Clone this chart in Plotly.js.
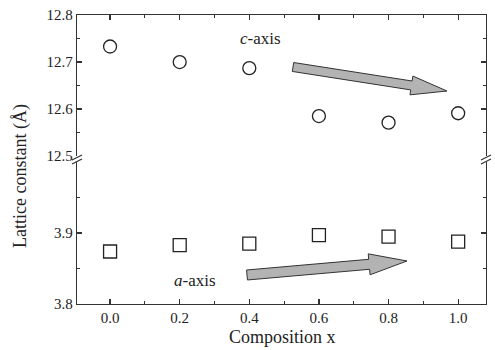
<!DOCTYPE html>
<html><head><meta charset="utf-8">
<script src="https://cdn.plot.ly/plotly-3.0.1.min.js"></script>
<style>body{margin:0;background:#fff}</style></head>
<body><div id="chart" style="width:495px;height:350px"></div>
<script>
const composition = [0.0, 0.2, 0.4, 0.6, 0.8, 1.0];
const cAxis = [12.733, 12.700, 12.687, 12.585, 12.571, 12.591];
const aAxis = [3.874, 3.883, 3.885, 3.897, 3.895, 3.888];
const xTickVals = [0.0, 0.2, 0.4, 0.6, 0.8, 1.0];
const xTickText = ['0.0', '0.2', '0.4', '0.6', '0.8', '1.0'];
const xMinorVals = [0.1, 0.3, 0.5, 0.7, 0.9];
const yTopTickVals = [12.5, 12.6, 12.7, 12.8];
const yTopTickText = ['12.5', '12.6', '12.7', '12.8'];
const yTopMinor = [12.55, 12.65, 12.75];
const yBotTickVals = [3.8, 3.9];
const yBotTickText = ['3.8', '3.9'];
const yBotMinor = [3.85, 3.95];

const W = 495, H = 350, L = 77, R = 486, T = 15, B = 304;
const PW = R - L, PH = B - T;
const px = x => (x - L) / PW;
const py = y => (B - y) / PH;

function arrowPath(tail, tip, shaftW, headW, headL) {
  const dx = tip[0] - tail[0], dy = tip[1] - tail[1];
  const len = Math.hypot(dx, dy);
  const ux = dx / len, uy = dy / len, nx = -uy, ny = ux;
  const bx = tip[0] - ux * headL, by = tip[1] - uy * headL;
  const pts = [
    [tail[0] + nx * shaftW / 2, tail[1] + ny * shaftW / 2],
    [bx + nx * shaftW / 2, by + ny * shaftW / 2],
    [bx + nx * headW / 2, by + ny * headW / 2],
    tip,
    [bx - nx * headW / 2, by - ny * headW / 2],
    [bx - nx * shaftW / 2, by - ny * shaftW / 2],
    [tail[0] - nx * shaftW / 2, tail[1] - ny * shaftW / 2]
  ];
  return 'M ' + pts.map(p => px(p[0]).toFixed(4) + ' ' + py(p[1]).toFixed(4)).join(' L ') + ' Z';
}

const serif = 'Liberation Serif';
const axisCol = '#333';
const common = {
  showline: true, linecolor: axisCol, linewidth: 1.3, showgrid: false, zeroline: false,
  ticks: 'inside', ticklen: 5, tickwidth: 1.2, tickcolor: axisCol,
  tickfont: {family: serif, size: 15, color: '#222'}
};

const traces = [
  {x: composition, y: cAxis, xaxis: 'x2', yaxis: 'y2', type: 'scatter', mode: 'markers',
   marker: {symbol: 'circle-open', size: 13, color: '#222', line: {width: 1.3, color: '#222'}}},
  {x: composition, y: aAxis, xaxis: 'x', yaxis: 'y', type: 'scatter', mode: 'markers',
   marker: {symbol: 'square-open', size: 13, color: '#222', line: {width: 1.3, color: '#222'}}}
];

const layout = {
  width: W, height: H, showlegend: false,
  font: {family: serif},
  paper_bgcolor: '#fff', plot_bgcolor: '#fff',
  margin: {l: L, r: W - R, t: T, b: H - B},
  xaxis: Object.assign({}, common, {domain: [0, 1], range: [-0.095, 1.08], anchor: 'y',
    tickmode: 'array', tickvals: xTickVals, ticktext: xTickText, mirror: false,
    minor: {ticks: 'inside', ticklen: 3, tickcolor: axisCol, tickmode: 'array', tickvals: xMinorVals}}),
  xaxis2: Object.assign({}, common, {matches: 'x', anchor: 'y2', side: 'top', showticklabels: false,
    tickmode: 'array', tickvals: xTickVals, mirror: false,
    minor: {ticks: 'inside', ticklen: 3, tickcolor: axisCol, tickmode: 'array', tickvals: xMinorVals}}),
  yaxis: Object.assign({}, common, {domain: [0, 0.491], range: [3.8, 4.0], anchor: 'x',
    tickmode: 'array', tickvals: yBotTickVals, ticktext: yBotTickText, mirror: 'ticks',
    minor: {ticks: 'inside', ticklen: 3, tickcolor: axisCol, tickmode: 'array', tickvals: yBotMinor}}),
  yaxis2: Object.assign({}, common, {domain: [0.512, 1], range: [12.4999, 12.8001], anchor: 'x2',
    tickmode: 'array', tickvals: yTopTickVals, ticktext: yTopTickText, mirror: 'ticks',
    minor: {ticks: 'inside', ticklen: 3, tickcolor: axisCol, tickmode: 'array', tickvals: yTopMinor}}),
  annotations: [
    {text: 'Lattice constant (Å)', xref: 'paper', yref: 'paper', x: px(20), y: py(176),
     textangle: -90, showarrow: false, xanchor: 'center', yanchor: 'middle',
     font: {family: serif, size: 18, color: '#222'}},
    {text: 'Composition x', xref: 'paper', yref: 'paper', x: px(282), y: py(337),
     showarrow: false, xanchor: 'center', yanchor: 'middle',
     font: {family: serif, size: 18, color: '#222'}},
    {text: '<i>c</i>-axis', xref: 'paper', yref: 'paper', x: px(260), y: py(38),
     showarrow: false, xanchor: 'center', yanchor: 'middle',
     font: {family: serif, size: 17, color: '#222'}},
    {text: '<i>a</i>-axis', xref: 'paper', yref: 'paper', x: px(195), y: py(280),
     showarrow: false, xanchor: 'center', yanchor: 'middle',
     font: {family: serif, size: 17, color: '#222'}}
  ],
  shapes: [
    {type: 'path', xref: 'paper', yref: 'paper', path: arrowPath([293, 67], [447, 91], 9, 19, 36),
     fillcolor: '#b3b3b3', line: {color: '#333', width: 1}},
    {type: 'path', xref: 'paper', yref: 'paper', path: arrowPath([247, 275], [407, 261], 10, 21, 38),
     fillcolor: '#b3b3b3', line: {color: '#333', width: 1}},
    {type: 'line', xref: 'paper', yref: 'paper', x0: px(72), y0: py(160), x1: px(82), y1: py(155), line: {color: axisCol, width: 1.2}},
    {type: 'line', xref: 'paper', yref: 'paper', x0: px(72), y0: py(164), x1: px(82), y1: py(159), line: {color: axisCol, width: 1.2}},
    {type: 'line', xref: 'paper', yref: 'paper', x0: px(481), y0: py(160), x1: px(491), y1: py(155), line: {color: axisCol, width: 1.2}},
    {type: 'line', xref: 'paper', yref: 'paper', x0: px(481), y0: py(164), x1: px(491), y1: py(159), line: {color: axisCol, width: 1.2}}
  ]
};

Plotly.newPlot('chart', traces, layout, {displayModeBar: false, staticPlot: true});
</script>
</body></html>
